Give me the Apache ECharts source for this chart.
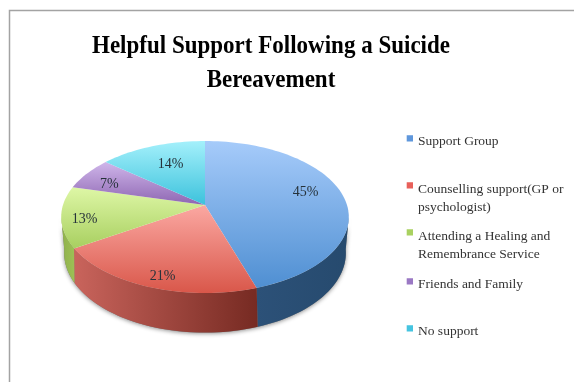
<!DOCTYPE html>
<html>
<head>
<meta charset="utf-8">
<style>html,body{margin:0;padding:0;background:#fff}#chart{width:574px;height:382px}</style>
<script src="https://cdn.jsdelivr.net/npm/echarts@6/dist/echarts.min.js"></script>
</head>
<body>
<div id="chart"></div>
<script>
const titleLines = ['Helpful Support Following a Suicide', 'Bereavement'];
const categories = ['Support Group', 'Counselling support(GP or psychologist)', 'Attending a Healing and Remembrance Service', 'Friends and Family', 'No support'];
const shares = [45, 21, 13, 7, 14];

// Slice colours: legend swatch, top face light/dark, side wall left/right
const swatchColors = ['#5f97dc', '#e8605a', '#a9d160', '#9a78c4', '#45c4e0'];
const topLight = ['#a6cbfa', '#fba8a2', '#def7a6', '#cfb6ea', '#a4f0fb'];
const topDark = ['#4f8fd2', '#d9574a', '#a8cf60', '#8e66b2', '#3cc2dc'];
const wallLeft = ['#2c5178', '#c9645c', '#8fb04c', '#6b4c8a', '#2a93a8'];
const wallRight = ['#264a6e', '#762a22', '#9dc055', '#6b4c8a', '#2a93a8'];

// Label nudges around each slice's mid radius
const labelRadius = [0.7, 0.86, 0.8, 0.8, 0.7];
const labelNudge = [[4, -5], [5, 3], [-6, 5], [0, 5], [4, 2]];

// Legend rows: vertical centre of each entry
const legendCentres = [139, 198, 245, 282, 329];
const legendHeights = [14, 36, 36, 14, 14];

// Perspective mapping of the unit disc onto the page, for the top and bottom rims
const topDisc = { cx: 205, y0: 205, a: 142, b: 74.1, k: 0.158 };
const baseDisc = { cx: 205, y0: 237, a: 138, b: 76.5, k: 0.2 };
const frontFrom = 99, frontTo = 261; // degrees clockwise from 12 o'clock where the side is visible

function project(d, deg, r) {
  const t = deg * Math.PI / 180;
  const u = r * Math.sin(t), v = -r * Math.cos(t);
  const w = 1 - d.k * v;
  return [d.cx + d.a * u / w, d.y0 + d.b * v / w];
}
function arc(d, from, to) {
  const pts = [], n = Math.max(2, Math.ceil((to - from) / 2));
  for (let i = 0; i <= n; i++) pts.push(project(d, from + (to - from) * i / n, 1));
  return pts;
}
const total = shares.reduce((s, v) => s + v, 0);
const hGrad = (a, b) => new echarts.graphic.LinearGradient(0, 0, 1, 0, [{ offset: 0, color: a }, { offset: 1, color: b }]);
const vGrad = (a, b) => new echarts.graphic.LinearGradient(0, 0, 0, 1, [{ offset: 0, color: a }, { offset: 1, color: b }]);

const sliceSeries = categories.map((name, i) => ({
  type: 'custom',
  name,
  coordinateSystem: 'none',
  z: 3,
  itemStyle: { color: swatchColors[i] },
  data: [[shares[i]]],
  renderItem(params, api) {
    const before = shares.slice(0, i).reduce((s, v) => s + v, 0);
    const from = before / total * 360;
    const to = from + api.value(0) / total * 360;
    const children = [];
    const wFrom = Math.max(from, frontFrom), wTo = Math.min(to, frontTo);
    if (wTo > wFrom) {
      children.push({
        type: 'polygon',
        shape: { points: arc(topDisc, wFrom, wTo).concat(arc(baseDisc, wFrom, wTo).reverse()) },
        style: { fill: hGrad(wallLeft[i], wallRight[i]) }
      });
    }
    children.push({
      type: 'polygon',
      shape: { points: [project(topDisc, 0, 0)].concat(arc(topDisc, from, to)) },
      style: { fill: vGrad(topLight[i], topDark[i]) }
    });
    const p = project(topDisc, (from + to) / 2, labelRadius[i]);
    children.push({
      type: 'text',
      x: p[0] + labelNudge[i][0],
      y: p[1] + labelNudge[i][1],
      style: {
        text: api.value(0) + '%',
        font: '14px "Liberation Serif"',
        fill: '#26323a',
        align: 'center',
        verticalAlign: 'middle'
      }
    });
    return { type: 'group', children };
  }
}));

// Soft shadow behind the visible rim of the pie
const rimShadow = {
  type: 'custom',
  name: 'rim',
  coordinateSystem: 'none',
  z: 2,
  silent: true,
  data: [[1]],
  renderItem() {
    return {
      type: 'polygon',
      shape: { points: arc(topDisc, frontFrom, frontTo).concat(arc(baseDisc, frontFrom, frontTo).reverse()) },
      style: { fill: '#777', shadowBlur: 4, shadowColor: 'rgba(0,0,0,0.45)', shadowOffsetY: 1 }
    };
  }
};

// One legend per entry so each row can sit at its own height; the swatch stays level with the first line
const legends = categories.map((name, i) => {
  const h = legendHeights[i];
  return {
    data: [name],
    left: 404,
    top: legendCentres[i] - h / 2,
    padding: 0,
    selectedMode: false,
    itemWidth: 9,
    itemHeight: h,
    icon: 'path://M3 1H10V8H3ZM0 ' + h + 'H0.01V' + h + 'Z',
    textStyle: {
      fontFamily: 'Liberation Serif',
      fontSize: 13.5,
      color: '#333',
      lineHeight: 18,
      width: 152,
      overflow: 'break'
    }
  };
});

const chart = echarts.init(document.getElementById('chart'), null, { renderer: 'canvas' });
chart.setOption({
  animation: false,
  backgroundColor: '#fff',
  legend: legends,
  graphic: [{
    type: 'rect',
    silent: true,
    shape: { x: 9.5, y: 10.5, width: 600, height: 420 },
    style: { fill: 'none', stroke: '#a3a3a3', lineWidth: 1.5 }
  }, {
    // Heading, narrowed horizontally to suit the serif's wide bold face
    type: 'text',
    silent: true,
    x: 271,
    y: 63,
    scaleX: 0.885,
    style: {
      text: titleLines.join('\n'),
      font: 'bold 26px "Liberation Serif"',
      lineHeight: 34,
      fill: '#000',
      align: 'center',
      verticalAlign: 'middle'
    }
  }],
  series: [rimShadow].concat(sliceSeries)
});
</script>
</body>
</html>
